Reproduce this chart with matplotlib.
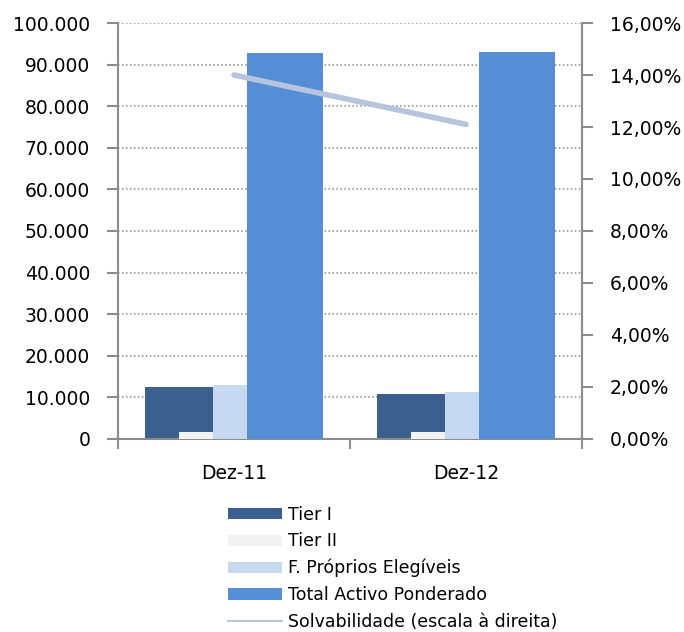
import matplotlib
matplotlib.use("Agg")
import matplotlib.pyplot as plt
import numpy as np
from matplotlib.ticker import FuncFormatter, MultipleLocator
from matplotlib.lines import Line2D

# dados (milhares de euros)
categorias = ["Dez-11", "Dez-12"]
tier1 = [12400, 10800]
tier2 = [1700, 1700]
fundos_proprios = [12900, 11300]
activo_ponderado = [92700, 93000]
solvabilidade = [14.0, 12.1]  # %

c_tier1 = "#3B5F8E"
c_tier2 = "#F2F2F2"
c_fp = "#C6D9F0"
c_tap = "#558ED5"
c_solv = "#B7C4DE"
c_axis = "#8C8C8C"

plt.rcParams['font.family'] = ['DejaVu Sans']

fig = plt.figure(figsize=(6.84, 6.32), dpi=100)
ax = fig.add_axes([0.1725, 0.3054, 0.6785, 0.6582])
x = np.arange(len(categorias))

# bars (Tier II fica por cima do Tier I, como no Excel)
ax.bar(x - 0.2375, tier1, width=0.293, color=c_tier1, label="Tier I", zorder=2)
ax.bar(x - 0.164, tier2, width=0.147, color=c_tier2, label="Tier II", zorder=3)
ax.bar(x - 0.0175, fundos_proprios, width=0.147, color=c_fp,
       label="F. Próprios Elegíveis", zorder=3)
ax.bar(x + 0.22, activo_ponderado, width=0.328, color=c_tap,
       label="Total Activo Ponderado", zorder=3)

ax.set_xlim(-0.5, 1.5)
ax.set_ylim(0, 100000)
ax.yaxis.set_major_locator(MultipleLocator(10000))
ax.yaxis.set_major_formatter(FuncFormatter(lambda v, p: f"{int(v):,}".replace(",", ".")))
ax.set_xticks([-0.5, 0.5, 1.5])
ax.set_xticklabels([])
ax.set_xticks(x, minor=True)
ax.set_xticklabels(categorias, minor=True)
ax.tick_params(axis="x", which="minor", length=0, pad=18, labelsize=13.5)
ax.tick_params(axis="x", which="major", length=7, width=1.5, color=c_axis, direction="out")
ax.tick_params(axis="y", length=8, width=1.5, color=c_axis, pad=12, labelsize=13.5)

for ylev in np.arange(10000, 100001, 10000):
    ax.axhline(ylev, color="#8C8C8C", lw=1.1, ls=(0, (1, 1.6)), zorder=1)

for s in ["top"]:
    ax.spines[s].set_visible(False)
for s in ["left", "right", "bottom"]:
    ax.spines[s].set_color(c_axis)
    ax.spines[s].set_linewidth(1.5)

ax2 = ax.twinx()
ax2.plot(x, solvabilidade, color=c_solv, lw=4, solid_capstyle="round", zorder=5)
ax2.set_ylim(0, 16)
ax2.yaxis.set_major_locator(MultipleLocator(2))
ax2.yaxis.set_major_formatter(FuncFormatter(lambda v, p: f"{v:.2f}%".replace(".", ",")))
ax2.tick_params(axis="y", length=8, width=1.5, color=c_axis, pad=12, labelsize=13.5)
for s in ["top", "left", "bottom"]:
    ax2.spines[s].set_visible(False)
ax2.spines["right"].set_color(c_axis)
ax2.spines["right"].set_linewidth(1.5)

handles, labels = ax.get_legend_handles_labels()
handles.append(Line2D([], [], color=c_solv, lw=1.5))
labels.append("Solvabilidade (escala à direita)")
fig.legend(handles, labels, loc="upper left", bbox_to_anchor=(0.333, 0.2),
           frameon=False, fontsize=12.5, borderpad=0, borderaxespad=0,
           handlelength=3.1, handleheight=0.62, handletextpad=0.35,
           labelspacing=0.5)

fig.savefig("out.png", dpi=100)
